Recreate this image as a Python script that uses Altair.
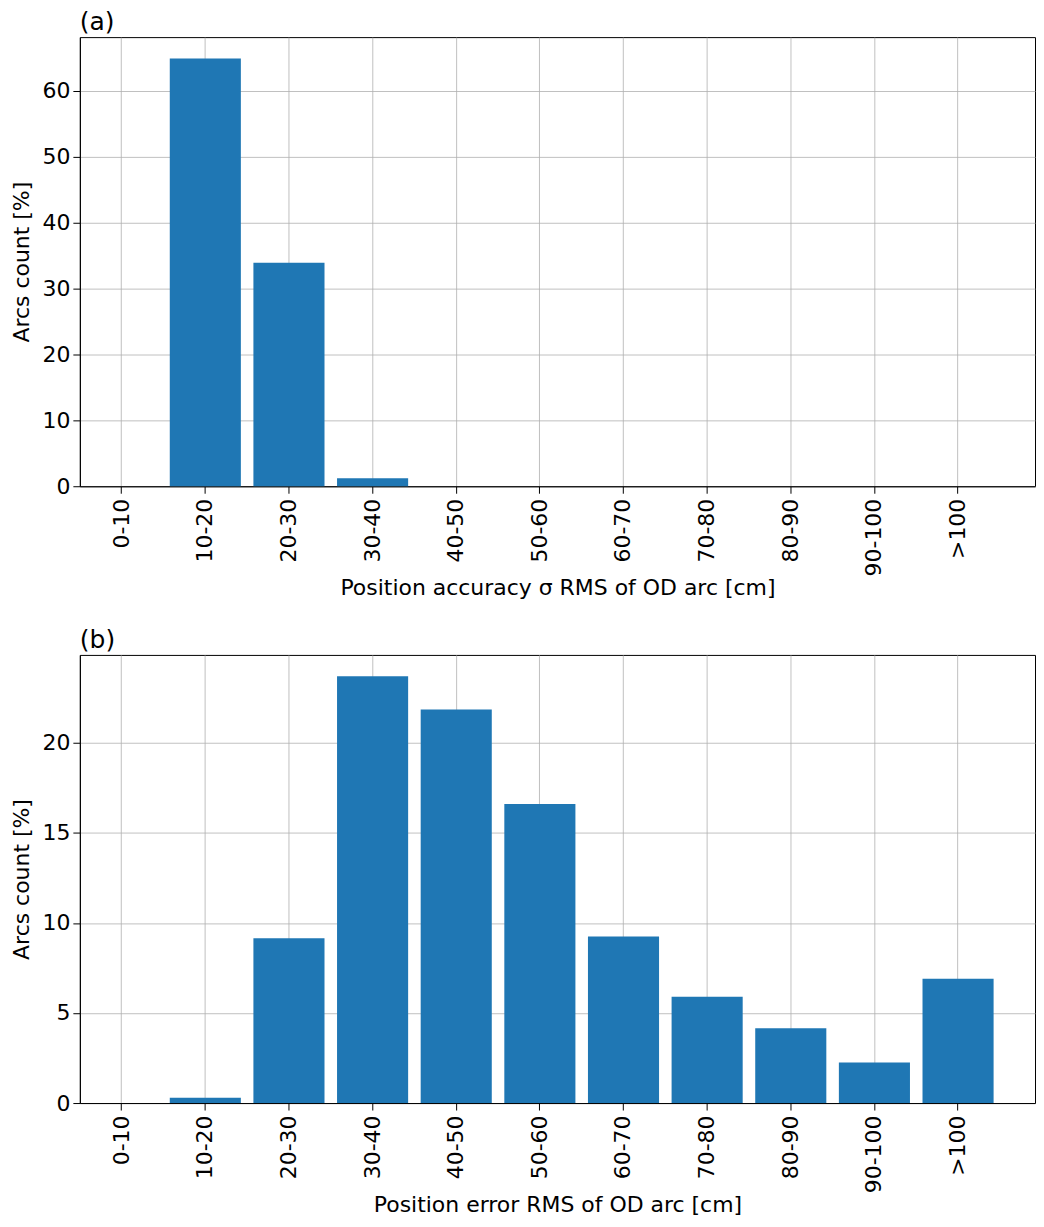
import altair as alt
import pandas as pd

categories = ["0-10", "10-20", "20-30", "30-40", "40-50", "50-60",
              "60-70", "70-80", "80-90", "90-100", ">100"]
accuracy_pct = [0.0, 64.9, 33.9, 1.2, 0.0, 0.0, 0.0, 0.0, 0.0, 0.0, 0.0]
error_pct = [0.0, 0.3, 9.15, 23.7, 21.85, 16.6, 9.25, 5.9, 4.15, 2.25, 6.9]
y_ticks_a = [0, 10, 20, 30, 40, 50, 60]
y_ticks_b = [0, 5, 10, 15, 20]
xtitle_a = "Position accuracy σ RMS of OD arc [cm]"
xtitle_b = "Position error RMS of OD arc [cm]"
ytitle = "Arcs count [%]"

FONT = "DejaVu Sans"
BLUE = "#1f77b4"


def panel(values, ticks, xtitle, letter, height):
    df = pd.DataFrame({"range": categories, "pct": values})
    ymax = max(values) * 1.05
    return (
        alt.Chart(df)
        .mark_bar(color=BLUE, width=alt.RelativeBandSize(0.85))
        .encode(
            x=alt.X(
                "range:N",
                sort=categories,
                title=xtitle,
                scale=alt.Scale(paddingInner=0, paddingOuter=0.21, align=0),
                axis=alt.Axis(labelAngle=270, labelAlign="right", labelBaseline="middle",
                              bandPosition=0.5, labelPadding=5, titlePadding=2),
            ),
            y=alt.Y(
                "pct:Q",
                title=ytitle,
                scale=alt.Scale(domain=[0, ymax], nice=False, zero=True),
                axis=alt.Axis(values=ticks, labelPadding=3, titlePadding=8),
            ),
        )
        .properties(
            width=957,
            height=height,
            title=alt.TitleParams(letter, anchor="start", frame="group", fontSize=25,
                                  font=FONT, fontWeight="normal", color="black", offset=2),
        )
    )


top = panel(accuracy_pct, y_ticks_a, xtitle_a, "(a)", 450)
bottom = panel(error_pct, y_ticks_b, xtitle_b, "(b)", 449)

chart = (
    alt.vconcat(top, bottom, spacing=27)
    .properties(padding={"left": 2, "top": 0, "right": 0, "bottom": 0})
    .configure_view(stroke="black", strokeWidth=1)
    .configure_axis(
        labelFont=FONT, titleFont=FONT, labelFontSize=22, titleFontSize=22,
        labelColor="black", titleColor="black", titleFontWeight="normal",
        tickColor="black", domainColor="black", tickSize=7, tickWidth=1,
        gridColor="#b0b0b0", gridWidth=0.8, grid=True, zindex=1,
    )
)

chart.save("out.html", embed_options={"renderer": "svg", "actions": False})
